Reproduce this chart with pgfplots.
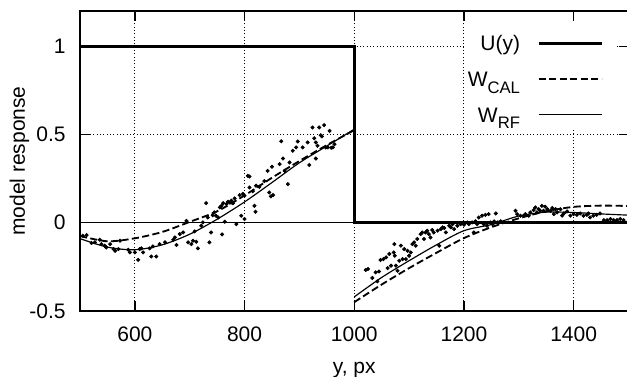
\documentclass[border=0pt]{standalone}
\usepackage{fontspec}
\setmainfont{Liberation Sans}
\usepackage{pgfplots}
\usepackage{pgfplotstable}
\pgfplotsset{compat=1.18}
\pgfplotstableread{
x y
505 -0.074
512 -0.070
521 -0.115
527 -0.111
536 -0.096
539 -0.121
545 -0.130
548 -0.140
555 -0.121
561 -0.149
564 -0.159
570 -0.149
573 -0.102
588 -0.153
591 -0.168
600 -0.168
606 -0.210
609 -0.149
612 -0.145
615 -0.168
627 -0.145
630 -0.191
639 -0.191
633 -0.134
645 -0.121
655 -0.111
670 -0.096
673 -0.083
676 -0.126
682 -0.064
688 -0.055
694 0.011
697 -0.111
703 -0.121
706 -0.102
712 -0.108
715 -0.145
709 -0.049
721 -0.017
724 0.002
730 0.111
733 0.030
736 -0.111
739 -0.055
742 0.043
745 0.059
748 0.040
752 0.030
755 0.087
758 0.096
759 -0.066
761 0.111
764 0.006
767 0.106
770 0.119
773 0.115
776 0.125
779 0.111
782 0.138
785 -0.008
791 0.157
794 0.040
797 0.164
800 0.021
800 0.153
806 0.266
809 0.262
809 0.200
815 0.179
818 0.096
820 0.062
821 0.210
827 0.204
836 0.236
842 0.294
845 0.172
848 0.149
852 0.157
850 0.317
864 0.332
867 0.462
870 0.364
873 0.294
879 0.219
882 0.342
888 0.408
894 0.427
897 0.461
906 0.427
915 0.455
918 0.327
924 0.540
927 0.479
930 0.364
930 0.455
933 0.436
936 0.540
939 0.496
941 0.489
945 0.553
948 0.427
952 0.427
955 0.521
958 0.425
961 0.427
964 0.445
}\dotsleft
\pgfplotstableread{
x y
1021 -0.268
1025 -0.262
1033 -0.313
1039 -0.281
1045 -0.276
1042 -0.332
1048 -0.211
1053 -0.206
1058 -0.196
1061 -0.257
1064 -0.177
1067 -0.243
1072 -0.168
1073 -0.121
1074 -0.187
1076 -0.243
1079 -0.272
1082 -0.215
1085 -0.130
1088 -0.206
1091 -0.149
1094 -0.206
1097 -0.159
1100 -0.187
1103 -0.168
1106 -0.121
1109 -0.111
1112 -0.130
1115 -0.092
1121 -0.064
1124 -0.055
1127 -0.092
1130 -0.055
1133 -0.045
1136 -0.064
1139 -0.083
1142 -0.041
1145 -0.055
1152 -0.045
1155 -0.130
1158 -0.036
1161 -0.026
1164 -0.030
1167 -0.055
1173 -0.017
1176 -0.026
1179 -0.008
1182 -0.036
1188 -0.017
1194 -0.008
1200 -0.011
1206 0.002
1209 -0.008
1215 0.002
1218 -0.055
1221 0.008
1224 -0.008
1227 0.030
1233 0.040
1236 -0.008
1239 0.045
1242 -0.017
1245 0.049
1248 0.002
1252 -0.008
1255 0.008
1258 0.053
1261 0.002
1264 0.002
1267 0.008
1294 0.068
1297 0.049
1303 0.040
1309 0.040
1312 0.049
1318 0.040
1321 0.059
1327 0.072
1330 0.087
1333 0.059
1336 0.077
1339 0.068
1342 0.096
1345 0.068
1348 0.091
1352 0.077
1358 0.068
1361 0.083
1364 0.049
1367 0.077
1370 0.059
1376 0.077
1379 0.040
1382 0.053
1388 0.064
1394 0.040
1400 0.049
1406 0.045
1412 0.053
1418 0.040
1424 0.045
1427 0.053
1430 0.030
1436 0.040
1442 0.045
1448 0.053
1455 0.015
1461 0.015
1467 0.021
1473 0.015
1479 0.015
1485 0.021
1491 0.015
}\dotsright
\begin{document}
\fontsize{12.6}{15}\selectfont
\begin{tikzpicture}
\begin{axis}[
  at={(48pt,39.6pt)}, anchor=south west,
  scale only axis, width=329.1pt, height=180pt,
  xmin=500, xmax=1500, ymin=-0.5, ymax=1.2,
  xtick={600,800,1000,1200,1400}, xticklabels={600,800,1000,1200,1400},
  ytick={-0.5,0,0.5,1}, yticklabels={-0.5,0,0.5,1},
  tick align=inside, major tick length=6pt,
  tick style={black, line width=0.8pt},
  axis line style={line width=1pt},
  grid=major,
  major grid style={black, line width=0.6pt, dash pattern=on 0.6pt off 1.4pt},
  xticklabel style={inner sep=0pt, anchor=north, yshift=-9.4pt},
  yticklabel style={inner sep=0pt, anchor=east, xshift=-8.4pt},
  xlabel={y, px}, ylabel={model response},
  xlabel style={at={(axis description cs:0.5,0)}, anchor=base, yshift=-37.4pt, inner sep=0pt},
  ylabel style={at={(axis description cs:-0.092,0.5)}, anchor=south, inner sep=0pt},
  legend plot pos=right,
  legend image code/.code={\path[draw=none,fill=none] (0pt,0pt) rectangle (45.6pt,0.1pt); \draw[#1] (0pt,4.4pt) -- (37.8pt,4.4pt);},
  legend style={draw=none, fill=white, at={(0.9754,0.967)}, anchor=north east,
    inner xsep=0pt, inner ysep=0.3pt, column sep=8.4pt, row sep=0pt,
    cells={anchor=base east, inner sep=0pt, text height=15.5pt, text depth=6.7pt}},
]
\addplot[black, line width=0.6pt, forget plot] coordinates {(500,0) (1500,0)};
\addplot[black, line width=1.6pt] coordinates {(500,1) (1000,1) (1000,0) (1500,0)};
\addlegendentry{U(y)}
\addplot[black, line width=1.1pt, dash pattern=on 4.3pt off 2pt, smooth] coordinates {
(500,-0.075) (550,-0.105) (600,-0.088) (650,-0.052) (700,0.005) (750,0.065) (800,0.155) (850,0.255) (900,0.35) (950,0.44) (1000,0.525)};
\addlegendentry{W\raisebox{-4pt}{\fontsize{10}{10}\selectfont CAL}}
\addplot[black, line width=0.7pt, smooth] coordinates {
(500,-0.09) (550,-0.138) (600,-0.153) (650,-0.125) (700,-0.065) (750,0.02) (800,0.118) (850,0.228) (900,0.34) (950,0.435) (1000,0.53)};
\addlegendentry{W\raisebox{-4pt}{\fontsize{10}{10}\selectfont RF}}
\addplot[black, line width=1.1pt, dash pattern=on 4.3pt off 2pt, smooth, forget plot] coordinates {
(1000,-0.45) (1050,-0.35) (1100,-0.257) (1150,-0.17) (1200,-0.087) (1250,-0.025) (1300,0.025) (1350,0.065) (1400,0.09) (1450,0.097) (1500,0.095)};
\addplot[black, line width=0.7pt, smooth, forget plot] coordinates {
(1000,-0.42) (1050,-0.31) (1100,-0.215) (1150,-0.125) (1200,-0.045) (1250,-0.01) (1300,0.038) (1350,0.06) (1400,0.058) (1450,0.05) (1500,0.043)};
\addplot[only marks, mark=*, mark size=1pt, black, forget plot] table {\dotsleft};
\addplot[only marks, mark=*, mark size=1pt, black, forget plot] table {\dotsright};
\end{axis}
\pgfresetboundingbox
\path[use as bounding box] (0,0) rectangle (376.2pt,226.2pt);
\end{tikzpicture}
\end{document}
